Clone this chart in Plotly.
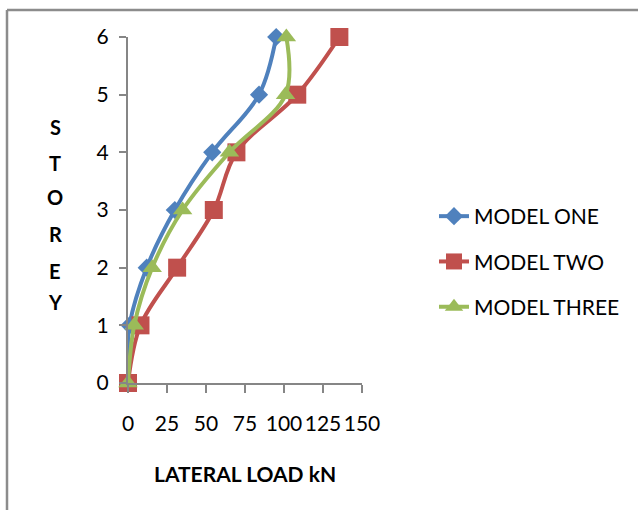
import plotly.graph_objects as go

# Storey levels and lateral load (kN) per model
storeys = [0, 1, 2, 3, 4, 5, 6]
model_one = [0, 1, 12, 30, 54, 84, 95]
model_two = [0, 8, 31.5, 55, 69.5, 108.5, 135.5]
model_three = [0, 4, 15.5, 35, 65, 101, 101.5]

series_names = ["MODEL ONE", "MODEL TWO", "MODEL THREE"]
series_colors = ["#4F81BD", "#C0504D", "#9BBB59"]
series_symbols = ["diamond", "square", "triangle-up"]
series_sizes = [14, 18, 17]

x_ticks = [0, 25, 50, 75, 100, 125, 150]
y_ticks = [0, 1, 2, 3, 4, 5, 6]
x_title = "LATERAL LOAD kN"
y_title = "STOREY"

FONT = "Lato"

# plot area geometry in pixels (for positioning annotations/shapes)
W, H = 638, 510
L, R, T, B = 128, 276, 37, 127
PW, PH = W - L - R, H - T - B


def px_x(px):
    return (px - L) / PW


def px_y(py):
    return (H - B - py) / PH


fig = go.Figure()
for i, (name, vals) in enumerate(zip(series_names, [model_one, model_two, model_three])):
    fig.add_trace(go.Scatter(
        x=vals, y=storeys, name=name, mode="lines+markers",
        line=dict(color=series_colors[i], width=4, shape="spline", smoothing=1),
        marker=dict(symbol=series_symbols[i], size=series_sizes[i], color=series_colors[i]),
        cliponaxis=False, legendgroup=f"g{i}",
    ))

axis_common = dict(
    showgrid=False, zeroline=False, showline=True, linecolor="#868686", linewidth=2,
    ticks="outside", tickcolor="#868686", tickwidth=2,
    tickfont=dict(family=FONT, size=21, color="black"),
)

fig.update_xaxes(range=[0, 150], tickvals=x_ticks, ticklen=8, ticklabelstandoff=13, **axis_common)
fig.update_yaxes(range=[0, 6], tickvals=y_ticks, ticklen=7, ticklabelstandoff=6, **axis_common)

# vertical stacked y-axis title
letter_rows = [127, 163, 197, 234, 271, 302]
annotations = []
for ch, py in zip(y_title, letter_rows):
    annotations.append(dict(
        text=f"<b>{ch}</b>", x=px_x(55), y=px_y(py), xref="paper", yref="paper",
        showarrow=False, xanchor="center", yanchor="middle",
        font=dict(family=FONT, size=20, color="black"),
    ))
annotations.append(dict(
    text=f"<b>{x_title}</b>", x=px_x(245), y=px_y(473), xref="paper", yref="paper",
    showarrow=False, xanchor="center", yanchor="middle",
    font=dict(family=FONT, size=21, color="black"),
))

# chart frame (top and left edges visible)
frame = dict(color="#8C8C8C", width=2.5)
shapes = [
    dict(type="line", xref="paper", yref="paper", x0=px_x(7), x1=px_x(W + 5),
         y0=px_y(10), y1=px_y(10), line=frame),
    dict(type="line", xref="paper", yref="paper", x0=px_x(7), x1=px_x(7),
         y0=px_y(10), y1=px_y(H + 5), line=frame),
]

fig.update_layout(
    width=W, height=H,
    margin=dict(l=L, r=R, t=T, b=B),
    plot_bgcolor="white", paper_bgcolor="white",
    font=dict(family=FONT, color="black"),
    showlegend=True,
    legend=dict(
        x=px_x(434), y=px_y(196), xanchor="left", yanchor="top",
        font=dict(family=FONT, size=21, color="black"),
        tracegroupgap=15, bgcolor="rgba(0,0,0,0)",
    ),
    annotations=annotations,
    shapes=shapes,
)

fig.write_html("out.html")
